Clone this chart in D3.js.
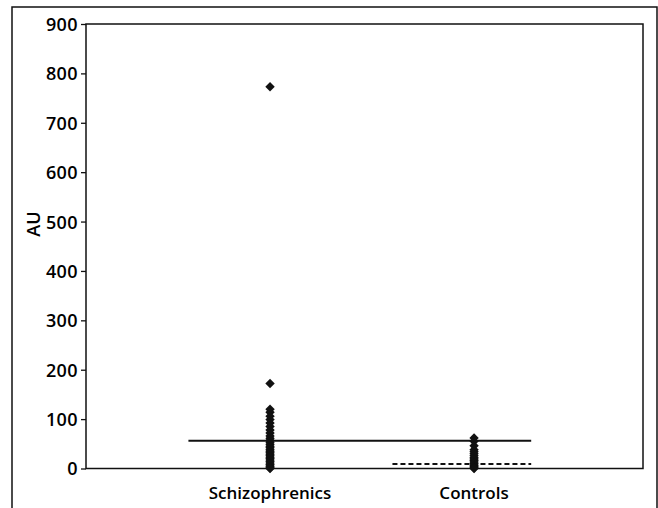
<!DOCTYPE html>
<html>
<head>
<meta charset="utf-8">
<script src="https://d3js.org/d3.v7.min.js"></script>
<style>
body { margin: 0; background: #fff; }
text { font-family: "Open Sans", sans-serif; fill: #000; font-weight: 600; }
</style>
</head>
<body>
<script>
// groups on the x axis
var groups = ["Schizophrenics", "Controls"];
var yTicks = [0, 100, 200, 300, 400, 500, 600, 700, 800, 900];

// AU values
var schizo = [773, 172, 120, 114, 106, 99, 92, 85, 78, 72, 66, 61, 57, 53, 49, 45, 42, 38, 35, 32,
              29, 26, 23, 20, 17, 14, 11, 8, 5, 3, 1, 0];
var controls = [62, 55, 46, 38, 34, 30, 26, 22, 19, 16, 13, 10, 7, 5, 3, 1, 0];

// reference lines (value, x-extent in group index units)
var refLines = [
  {value: 56, from: 0.6, to: 2.28, dashed: false},
  {value: 9, from: 1.6, to: 2.28, dashed: true}
];

var W = 658, H = 508;
var mLeft = 86, mRight = 643, mTop = 24, mBottom = 468.5;

var svg = d3.select("body").append("svg")
  .attr("width", W).attr("height", H);

// outer frame (open at the bottom)
svg.append("path")
  .attr("d", "M12," + H + "V7H657V" + H)
  .attr("fill", "none").attr("stroke", "#111").attr("stroke-width", 1.5);

var x = d3.scaleLinear().domain([0.098, 2.828]).range([mLeft, mRight]);
var y = d3.scaleLinear().domain([0, 900]).range([mBottom, mTop]);

// plot box
svg.append("rect")
  .attr("x", mLeft).attr("y", mTop)
  .attr("width", mRight - mLeft).attr("height", mBottom - mTop)
  .attr("fill", "none").attr("stroke", "#111").attr("stroke-width", 1.5);

var yAxis = svg.append("g")
  .attr("transform", "translate(" + mLeft + ",0)")
  .call(d3.axisLeft(y).tickValues(yTicks).tickSize(5).tickPadding(3));
yAxis.select(".domain").remove();
yAxis.selectAll("line").attr("stroke", "#111").attr("stroke-width", 1.3);
yAxis.selectAll("text")
  .style("font-family", "Open Sans, sans-serif")
  .style("font-size", "18px").style("font-weight", "600")
  .style("letter-spacing", "0.4px")
  .attr("fill", "#000").attr("dy", "0.36em");

svg.append("text")
  .attr("transform", "translate(40,224) rotate(-90)")
  .attr("text-anchor", "middle")
  .style("font-size", "18px")
  .text("AU");

// group labels
svg.selectAll(".glabel")
  .data(groups)
  .enter().append("text")
  .attr("class", "glabel")
  .attr("x", (d, i) => x(i + 1))
  .attr("y", 499)
  .attr("text-anchor", "middle")
  .style("font-size", "17px")
  .text(d => d);

// reference lines
svg.selectAll(".ref")
  .data(refLines)
  .enter().append("line")
  .attr("class", "ref")
  .attr("x1", d => x(d.from)).attr("x2", d => x(d.to))
  .attr("y1", d => y(d.value)).attr("y2", d => y(d.value))
  .attr("stroke", "#111").attr("stroke-width", 2)
  .attr("stroke-dasharray", d => d.dashed ? "5,3" : null);

// diamond dots
var diamond = d3.symbol().type(d3.symbolSquare).size(44);
[schizo, controls].forEach(function (vals, gi) {
  svg.append("g").selectAll("path")
    .data(vals)
    .enter().append("path")
    .attr("d", diamond)
    .attr("transform", d => "translate(" + x(gi + 1) + "," + y(d) + ") rotate(45)")
    .attr("fill", "#111");
});
</script>
</body>
</html>
